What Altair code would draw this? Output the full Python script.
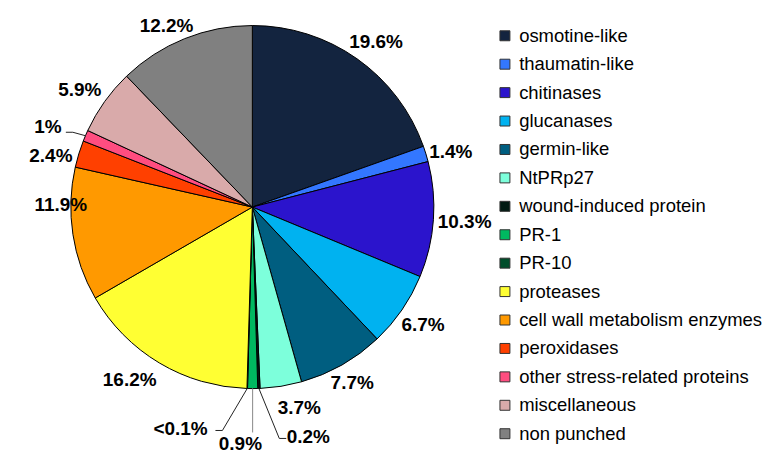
import math
import altair as alt
import pandas as pd

# ---- data ----
categories = [
    "osmotine-like", "thaumatin-like", "chitinases", "glucanases", "germin-like",
    "NtPRp27", "wound-induced protein", "PR-1", "PR-10", "proteases",
    "cell wall metabolism enzymes", "peroxidases", "other stress-related proteins",
    "miscellaneous", "non punched",
]
values = [19.6, 1.4, 10.3, 6.7, 7.7, 3.7, 0.2, 0.9, 0.05, 16.2, 11.9, 2.4, 1.0, 5.9, 12.2]
labels = ["19.6%", "1.4%", "10.3%", "6.7%", "7.7%", "3.7%", "0.2%", "0.9%", "<0.1%",
          "16.2%", "11.9%", "2.4%", "1%", "5.9%", "12.2%"]
colors = ["#13243F", "#3377FF", "#2B14CC", "#00B2F0", "#005E80", "#7DFFDB", "#001A12",
          "#00B860", "#004D2B", "#FFFF33", "#FF9900", "#FF4000", "#FF4D80", "#D9AAAA", "#808080"]

# ---- layout constants ----
W, H = 490, 398
R = 182
FONT = "Liberation Sans"
FS = 19
PAD = 4
# callout labels for tiny slices: (label centre, elbow, end) relative to pie centre, y up
callouts = {
    "1%": ((-205, 80), (-180, 75), (-187, 75)),
    "<0.1%": ((-72, -223), (-30, -224), (-37, -224)),
    "0.9%": ((-12, -238), None, None),
    "0.2%": ((56, -231), (27, -232), (34, -232)),
}
# labels nudged off their default outside-end spot (relative to pie centre, y up)
nudged = {
    "19.6%": (124, 165), "1.4%": (199, 55),
    "3.7%": (47, -201), "16.2%": (-123, -173), "11.9%": (-192, 2), "2.4%": (-202, 51),
    "5.9%": (-173, 117), "12.2%": (-86, 182),
}

total = sum(values)
char_w = {".": 0.278, "%": 0.889, "<": 0.584}
rows, lines = [], []
cum = 0.0
for i, (c, v, lab) in enumerate(zip(categories, values, labels)):
    mid = 2 * math.pi * (cum + v / 2) / total
    cum += v
    s, co = math.sin(mid), math.cos(mid)
    ex, ey = R * s, R * co
    if lab in callouts:
        (tx, ty), elbow, end = callouts[lab]
        pts = [(ex, ey), (ex, -226)] if elbow is None else [(ex, ey), elbow, end]
        for k, (px, py) in enumerate(pts):
            lines.append({"lab": lab, "k": k, "x": px, "y": py,
                          "col": "#888888" if lab == "0.9%" else "#222222"})
    elif lab in nudged:
        tx, ty = nudged[lab]
    else:
        tw = sum(char_w.get(ch, 0.556) for ch in lab) * FS
        th = FS * 0.75
        rr = R + PAD + abs(s) * tw / 2 + abs(co) * th / 2
        tx, ty = rr * s, rr * co
    rows.append({"x": tx, "y": ty, "label": lab})

df = pd.DataFrame({"category": categories, "value": values, "idx": list(range(len(values)))})
lab_df = pd.DataFrame(rows)
line_df = pd.DataFrame(lines)

xs = alt.Scale(domain=[-W / 2, W / 2], nice=False, zero=False)
ys = alt.Scale(domain=[-H / 2, H / 2], nice=False, zero=False)

pie = alt.Chart(df).mark_arc(radius=R, stroke="black", strokeWidth=1).encode(
    theta=alt.Theta("value:Q", stack=True),
    order=alt.Order("idx:Q"),
    color=alt.Color("category:N", sort=categories,
                    scale=alt.Scale(domain=categories, range=colors),
                    legend=alt.Legend(title=None, orient="none", legendX=489, legendY=18,
                                      symbolType="square", symbolSize=100,
                                      symbolStrokeColor="#333333", symbolStrokeWidth=1,
                                      labelFont=FONT, labelFontSize=18.5, labelColor="black",
                                      rowPadding=9.5, labelOffset=5, labelLimit=400)),
)

leaders = alt.Chart(line_df).mark_line(strokeWidth=1).encode(
    x=alt.X("x:Q", scale=xs, axis=None),
    y=alt.Y("y:Q", scale=ys, axis=None),
    detail="lab:N",
    order="k:Q",
    color=alt.Color("col:N", scale=None),
)

text = alt.Chart(lab_df).mark_text(font=FONT, fontSize=FS, fontWeight="bold",
                                   align="center", baseline="middle", color="black").encode(
    x=alt.X("x:Q", scale=xs, axis=None),
    y=alt.Y("y:Q", scale=ys, axis=None),
    text="label:N",
)

chart = alt.layer(pie, leaders, text).resolve_scale(color="independent").properties(
    width=W, height=H, padding=0, background="white"
).configure_view(stroke=None, strokeWidth=0)

chart.save("out.html", embed_options={"renderer": "svg", "actions": False})
